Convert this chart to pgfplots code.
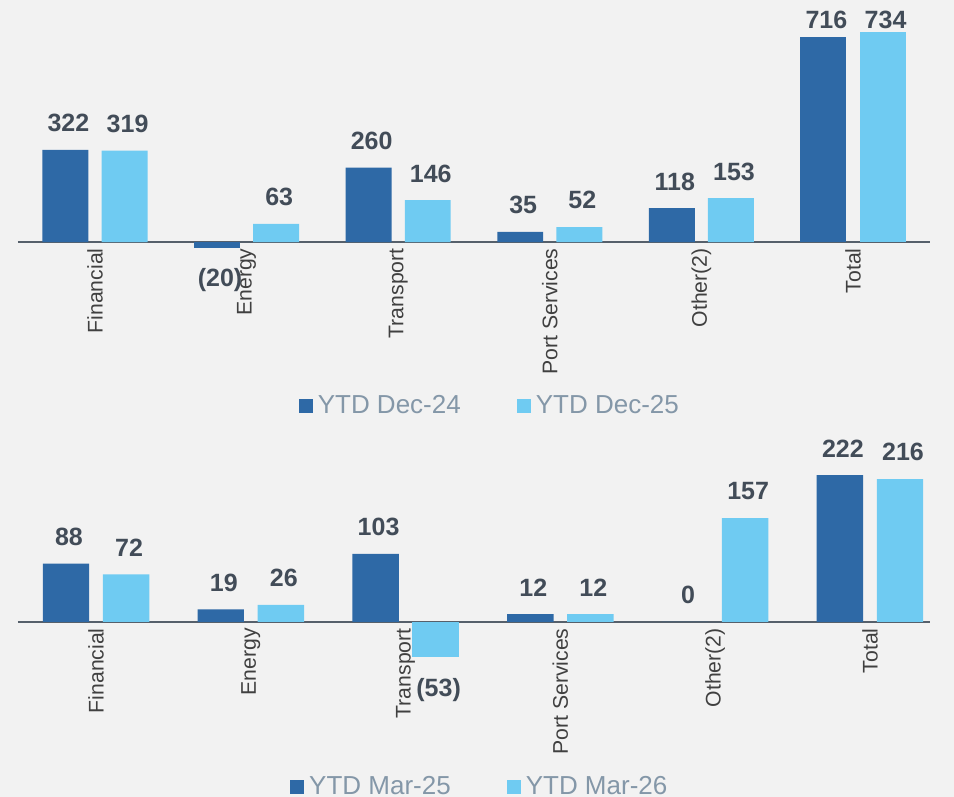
\documentclass[border=0pt]{standalone}
\usepackage{pgfplots}
\pgfplotsset{compat=1.18}
\usepackage{fontspec}
\setmainfont{Liberation Sans}

\definecolor{bg}{HTML}{F2F2F2}
\definecolor{darkbar}{HTML}{2E69A6}
\definecolor{lightbar}{HTML}{6FCBF2}
\definecolor{valtxt}{HTML}{424C58}
\definecolor{ticktxt}{HTML}{404040}
\definecolor{legtxt}{HTML}{8497A8}
\definecolor{axline}{HTML}{56606B}

\pgfplotsset{
  panel/.style={
    scale only axis,
    width=456pt,
    clip=false,
    axis x line=middle,
    axis y line=none,
    axis line style={-, draw=axline, line width=1pt},
    major tick length=0pt,
    ytick=\empty,
    xtick={0,1,2,3,4,5},
    xticklabels={Financial,Energy,Transport,Port Services,Other(2),Total},
    xticklabel style={rotate=90, anchor=east, font=\fontsize{10.6}{12}\selectfont, text=ticktxt, inner sep=3pt},
    bar width=0.303,
    bar shift=0pt,
    nodes near coords,
    point meta=explicit symbolic,
    every node near coord/.append style={font=\fontsize{12.5}{14}\selectfont\bfseries, text=valtxt, inner ysep=8.75pt, xshift=1.5pt},
    legend columns=2,
    legend image code/.code={\fill[##1] (0pt,-3.5pt) rectangle (7pt,3.5pt);},
    legend style={draw=none, fill=none, font=\fontsize{13}{15}\selectfont, text=legtxt,
      anchor=center, inner sep=0pt,
      nodes={inner xsep=2.5pt},
      /tikz/every even column/.append style={column sep=25.5pt}},
  },
  neg/.style={forget plot, every node near coord/.append style={anchor=north, yshift=-1.5pt}},
  tot/.style={forget plot, every node near coord/.append style={yshift=#1}},
}

\begin{document}
\begin{tikzpicture}
\useasboundingbox (0,0) rectangle (477pt,398.5pt);
\fill[bg] (0,0) rectangle (477pt,398.5pt);

% top panel: YTD December
\begin{axis}[panel,
  at={(9pt,273.2pt)}, anchor=south west,
  height=115.3pt,
  xmin=-0.508, xmax=5.508,
  ymin=-30, ymax=776,
  legend style={at={(0.519,-0.675)}},
]
\addplot[ybar, fill=darkbar, draw=none] coordinates {
(-0.195,322)[322] (1.805,260)[260] (2.805,35)[35] (3.805,118)[118]
};
\addlegendentry{YTD Dec-24}
\addplot[ybar, fill=lightbar, draw=none] coordinates {
(0.195,319)[319] (1.195,63)[63] (2.195,146)[146] (3.195,52)[52] (4.195,153)[153]
};
\addlegendentry{YTD Dec-25}
\addplot[ybar, fill=darkbar, draw=none, neg] coordinates {(0.805,-20)[(20)]};
\addplot[ybar, fill=darkbar, draw=none, tot=-4.75pt] coordinates {(4.805,716)[716]};
\addplot[ybar, fill=lightbar, draw=none, tot=-7.25pt] coordinates {(5.195,734)[734]};
\end{axis}

% bottom panel: YTD March
\begin{axis}[panel,
  at={(9pt,66pt)}, anchor=south west,
  height=112.5pt,
  xmin=-0.504, xmax=5.388,
  ymin=-65, ymax=275,
  bar width=0.30,
  legend style={at={(0.508,-0.542)}},
]
\addplot[ybar, fill=darkbar, draw=none] coordinates {
(-0.194,88)[88] (0.806,19)[19] (1.806,103)[103] (2.806,12)[12] (3.806,0)[0] (4.806,222)[222]
};
\addlegendentry{YTD Mar-25}
\addplot[ybar, fill=lightbar, draw=none] coordinates {
(0.194,72)[72] (1.194,26)[26] (3.194,12)[12] (4.194,157)[157] (5.194,216)[216]
};
\addlegendentry{YTD Mar-26}
\addplot[ybar, fill=lightbar, draw=none, neg] coordinates {(2.194,-53)[(53)]};
\end{axis}
\end{tikzpicture}
\end{document}
